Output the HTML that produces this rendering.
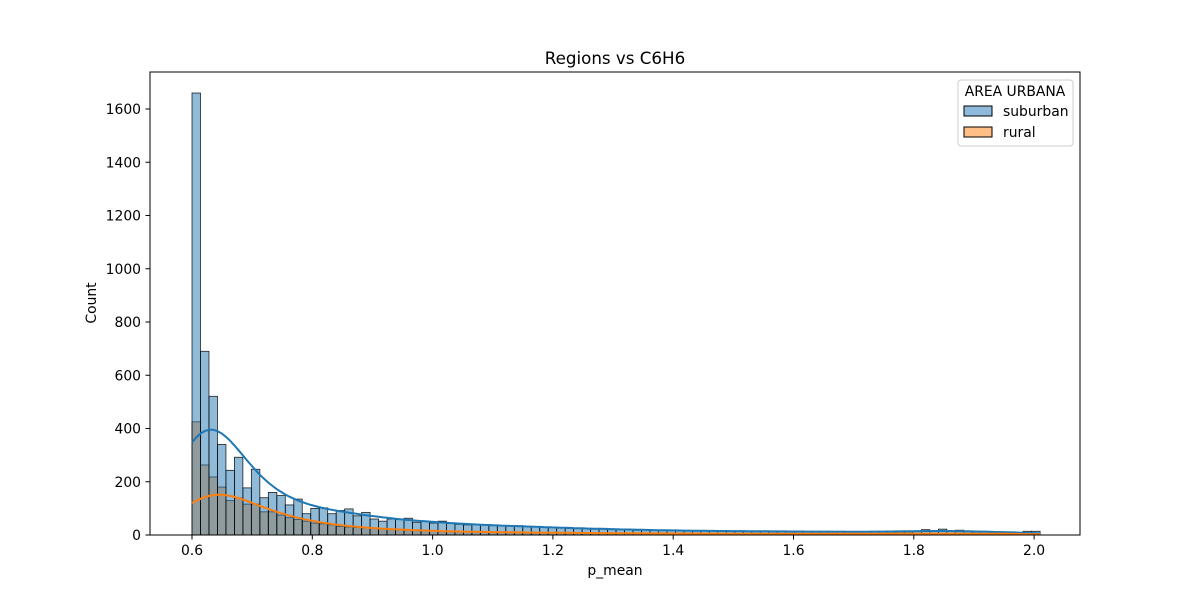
<!DOCTYPE html>
<html><head><meta charset="utf-8"><style>
body{margin:0;background:#fff;font-family:"Liberation Sans","DejaVu Sans",sans-serif;}
svg text{font-family:"DejaVu Sans","Liberation Sans",sans-serif;}
</style></head><body>
<svg id="chart" width="1200" height="600" viewBox="0 0 1200 600" xmlns="http://www.w3.org/2000/svg">
<rect width="1200" height="600" fill="#fff"/>
<text x="615" y="64" font-size="16.7" text-anchor="middle">Regions vs C6H6</text>
<g id="marks"></g>
<rect x="150" y="72" width="930" height="463" fill="none" stroke="#000" stroke-width="1"/>
<g id="axes"></g>
<text x="615" y="575" font-size="13.9" text-anchor="middle">p_mean</text>
<text transform="translate(96,303) rotate(-90)" font-size="13.9" text-anchor="middle">Count</text>
<g>
<rect x="958" y="80" width="115" height="66" rx="3" fill="#fff" stroke="#ccc"/>
<text x="1015" y="96" font-size="13.9" text-anchor="middle">AREA URBANA</text>
<rect x="964" y="106" width="28" height="10" fill="#8fbadb" stroke="#000"/>
<text x="1003" y="116" font-size="13.9">suburban</text>
<rect x="964" y="127" width="28" height="10" fill="#ffbf86" stroke="#000"/>
<text x="1003" y="137" font-size="13.9">rural</text>
</g>
</svg>
<script>
const binStart = 0.6;
const binWidth = 0.0141;
const suburban = [1660,690,521,340,243,292,177,247,140,160,148,113,135,80,100,102,80,92,98,72,85,60,52,60,58,63,48,52,45,52,43,40,38,40,38,35,35,33,35,33,30,30,28,28,25,25,25,22,25,20,22,20,18,20,18,18,18,16,15,16,15,16,14,15,14,15,15,14,13,14,13,12,13,12,12,13,14,12,12,12,12,12,12,12,12,14,20,16,22,14,18,13,12,12,10,12,10,10,14,14];
const rural = [425,263,218,180,129,139,116,116,87,87,75,65,58,52,45,42,38,32,30,28,26,24,22,22,20,18,17,16,15,14,13,13,12,12,11,11,10,10,10,9,9,9,8,8,8,8,7,7,7,7,7,6,6,6,6,6,6,6,5,5,5,5,5,5,5,5,5,5,5,5,5,5,5,5,5,5,5,5,5,5,5,5,5,5,5,5,6,5,6,5,5,5,5,5,5,5,5,5,5,5];
const xTicks = [0.6,0.8,1.0,1.2,1.4,1.6,1.8,2.0];
const yTicks = [0,200,400,600,800,1000,1200,1400,1600];
const NS='http://www.w3.org/2000/svg';
const X = v => 192 + (v-0.6)*601.5;
const Y = c => 535 - c*0.26625;
const marks=document.getElementById('marks'), axes=document.getElementById('axes');
function mk(tag, attrs, parent){const e=document.createElementNS(NS,tag);for(const k in attrs)e.setAttribute(k,attrs[k]);parent.appendChild(e);return e;}
function bars(arr, fill, name){
  arr.forEach((c,i)=>{
    const x0=X(binStart+i*binWidth), x1=X(binStart+(i+1)*binWidth);
    const r=mk('rect',{x:x0,y:Y(c),width:x1-x0,height:Y(0)-Y(c),fill:fill,stroke:'#000','stroke-width':0.8,'stroke-opacity':0.85},marks);
    
    
  });
}
bars(rural,'rgba(255,127,14,0.5)','rural');
bars(suburban,'rgba(31,119,180,0.5)','suburban');
function kde(arr){
  const h=0.052, pts=[], lo=binStart, hi=binStart+arr.length*binWidth;
  for(let k=0;k<=200;k++){
    const x=lo+(hi-lo)*k/200; let s=0;
    arr.forEach((c,i)=>{const ci=binStart+(i+0.5)*binWidth;const z=(x-ci)/h;s+=c*Math.exp(-0.5*z*z)*binWidth/(h*2.5066);});
    pts.push(X(x).toFixed(1)+','+Y(s).toFixed(1));
  }
  return pts.join(' ');
}
let l=mk('polyline',{points:kde(suburban),fill:'none',stroke:'#1f77b4','stroke-width':2},marks);


l=mk('polyline',{points:kde(rural),fill:'none',stroke:'#ff7f0e','stroke-width':2},marks);


xTicks.forEach(v=>{
  mk('line',{x1:X(v),x2:X(v),y1:535,y2:539.5,stroke:'#000'},axes);
  const t=mk('text',{x:X(v),y:555,'font-size':13.9,'text-anchor':'middle'},axes);
  t.textContent=v.toFixed(1);
  
  
});
yTicks.forEach(v=>{
  mk('line',{x1:145.5,x2:150,y1:Y(v),y2:Y(v),stroke:'#000'},axes);
  const t=mk('text',{x:141,y:Y(v)+5,'font-size':13.9,'text-anchor':'end'},axes);
  t.textContent=v;
  
  
});
</script>
</body></html>
